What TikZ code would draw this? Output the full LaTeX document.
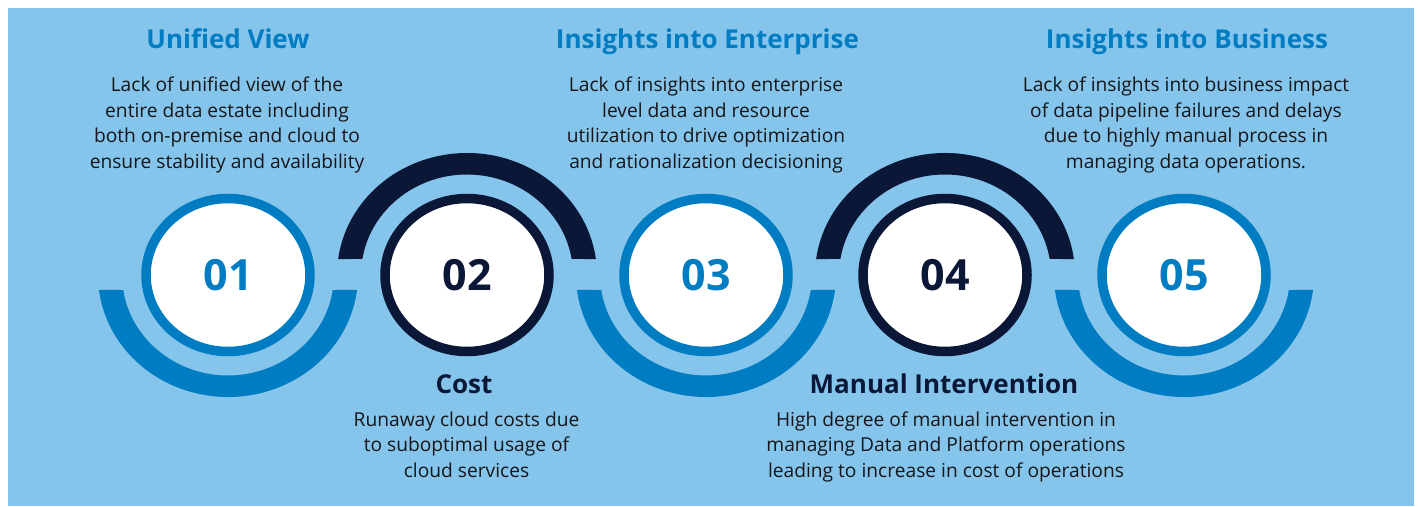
\documentclass[tikz,border=0pt]{standalone}
\usepackage{fontspec}
\setmainfont{Open Sans}
\usepackage{tikz}
\usetikzlibrary{shapes.geometric,calc}
\definecolor{bgblue}{RGB}{133,197,235}
\definecolor{ringblue}{RGB}{0,124,194}
\definecolor{navy}{RGB}{10,23,54}
\definecolor{bodytext}{RGB}{22,22,26}

\begin{document}
\begin{tikzpicture}[x=1pt,y=1pt]
\tikzstyle{ring}=[ellipse,draw=ringblue,fill=white,line width=9.5pt,minimum width=164pt,minimum height=153pt,inner sep=0pt,text=ringblue,font=\fontsize{43}{48}\selectfont\bfseries]
\tikzstyle{title}=[anchor=base,inner sep=0pt,font=\fontsize{26}{30}\selectfont\bfseries]
\tikzstyle{body}=[anchor=north,align=center,inner sep=0pt,text=bodytext,font=\fontsize{19.2}{25.4}\selectfont]

\useasboundingbox (0,0) rectangle (1418,506);
\fill[bgblue] (8,0) rectangle (1414,498);

% Numbered circles
\node (C1) [ring] at (228,231) {01};
\node (C2) [ring,draw=navy,text=navy] at (467,231) {02};
\node (C3) [ring] at (706,231) {03};
\node (C4) [ring,draw=navy,text=navy] at (945,231) {04};
\node (C5) [ring] at (1184,231) {05};

% Bands under the blue circles
\fill[ringblue] ($(C1.center)+(-7:130 and 122)$) arc[start angle=-7,end angle=-173,x radius=130,y radius=122] -- ($(C1.center)+(-171.4:106 and 100.5)$) arc[start angle=-171.4,end angle=-8.6,x radius=106,y radius=100.5] -- cycle;
\fill[ringblue] ($(C3.center)+(-7:130 and 122)$) arc[start angle=-7,end angle=-173,x radius=130,y radius=122] -- ($(C3.center)+(-171.4:106 and 100.5)$) arc[start angle=-171.4,end angle=-8.6,x radius=106,y radius=100.5] -- cycle;
\fill[ringblue] ($(C5.center)+(-7:130 and 122)$) arc[start angle=-7,end angle=-173,x radius=130,y radius=122] -- ($(C5.center)+(-171.4:106 and 100.5)$) arc[start angle=-171.4,end angle=-8.6,x radius=106,y radius=100.5] -- cycle;

% Bands over the dark circles
\fill[navy] ($(C2.center)+(7.5:130 and 122)$) arc[start angle=7.5,end angle=172.5,x radius=130,y radius=122] -- ($(C2.center)+(170.8:106 and 100.5)$) arc[start angle=170.8,end angle=9.2,x radius=106,y radius=100.5] -- cycle;
\fill[navy] ($(C4.center)+(7.5:130 and 122)$) arc[start angle=7.5,end angle=172.5,x radius=130,y radius=122] -- ($(C4.center)+(170.8:106 and 100.5)$) arc[start angle=170.8,end angle=9.2,x radius=106,y radius=100.5] -- cycle;

% Texts above
\node (T1) [title,text=ringblue] at (228,457.5) {Unified View};
\node (D1) [body] at (227,429) {Lack of unified view of the\\entire data estate including\\both on-premise and cloud to\\ensure stability and availability};
\node (T3) [title,text=ringblue] at (707.5,457.5) {Insights into Enterprise};
\node (D3) [body] at (706,429) {Lack of insights into enterprise\\level data and resource\\utilization to drive optimization\\and rationalization decisioning};
\node (T5) [title,text=ringblue] at (1187,457.5) {Insights into Business};
\node (D5) [body] at (1186,429) {Lack of insights into business impact\\of data pipeline failures and delays\\due to highly manual process in\\managing data operations.};

% Texts below
\node (T2) [title,text=navy] at (464,112) {Cost};
\node (D2) [body] at (466.5,94.5) {Runaway cloud costs due\\to suboptimal usage of\\cloud services};
\node (T4) [title,text=navy] at (944,112) {Manual Intervention};
\node (D4) [body] at (946,94.5) {High degree of manual intervention in\\managing Data and Platform operations\\leading to increase in cost of operations};

\end{tikzpicture}
\end{document}
